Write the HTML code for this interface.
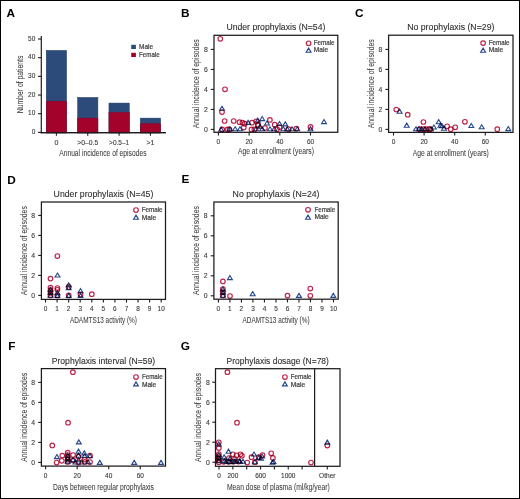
<!DOCTYPE html>
<html><head><meta charset="utf-8"><style>
html,body{margin:0;padding:0;background:#fff;}
body{width:520px;height:499px;overflow:hidden;}
svg{display:block;font-family:"Liberation Sans", sans-serif;will-change:transform;transform:translateZ(0);}
.m{mix-blend-mode:multiply;}
</style></head><body>
<svg width="520" height="499" viewBox="0 0 520 499">
<rect x="0" y="0" width="520" height="499" fill="#fff"/>
<rect x="0.5" y="0.5" width="519" height="498" fill="none" stroke="#000" stroke-width="1"/>
<text x="6.60" y="16.80" font-size="11.8" fill="#000" text-anchor="start" font-weight="bold">A</text>
<line x1="41.30" y1="36.00" x2="41.30" y2="133.30" stroke="#1c1c1c" stroke-width="1.2"/>
<line x1="40.70" y1="132.70" x2="165.80" y2="132.70" stroke="#1c1c1c" stroke-width="1.2"/>
<line x1="38.00" y1="132.40" x2="41.30" y2="132.40" stroke="#1c1c1c" stroke-width="1.1"/>
<text x="35.30" y="134.10" font-size="7.0" fill="#3c3c3c" text-anchor="end" stroke="#3c3c3c" stroke-width="0.12" textLength="3.60" lengthAdjust="spacingAndGlyphs">0</text>
<line x1="38.00" y1="113.72" x2="41.30" y2="113.72" stroke="#1c1c1c" stroke-width="1.1"/>
<text x="35.30" y="115.42" font-size="7.0" fill="#3c3c3c" text-anchor="end" stroke="#3c3c3c" stroke-width="0.12" textLength="7.20" lengthAdjust="spacingAndGlyphs">10</text>
<line x1="38.00" y1="95.04" x2="41.30" y2="95.04" stroke="#1c1c1c" stroke-width="1.1"/>
<text x="35.30" y="96.74" font-size="7.0" fill="#3c3c3c" text-anchor="end" stroke="#3c3c3c" stroke-width="0.12" textLength="7.20" lengthAdjust="spacingAndGlyphs">20</text>
<line x1="38.00" y1="76.36" x2="41.30" y2="76.36" stroke="#1c1c1c" stroke-width="1.1"/>
<text x="35.30" y="78.06" font-size="7.0" fill="#3c3c3c" text-anchor="end" stroke="#3c3c3c" stroke-width="0.12" textLength="7.20" lengthAdjust="spacingAndGlyphs">30</text>
<line x1="38.00" y1="57.68" x2="41.30" y2="57.68" stroke="#1c1c1c" stroke-width="1.1"/>
<text x="35.30" y="59.38" font-size="7.0" fill="#3c3c3c" text-anchor="end" stroke="#3c3c3c" stroke-width="0.12" textLength="7.20" lengthAdjust="spacingAndGlyphs">40</text>
<line x1="38.00" y1="39.00" x2="41.30" y2="39.00" stroke="#1c1c1c" stroke-width="1.1"/>
<text x="35.30" y="40.70" font-size="7.0" fill="#3c3c3c" text-anchor="end" stroke="#3c3c3c" stroke-width="0.12" textLength="7.20" lengthAdjust="spacingAndGlyphs">50</text>
<rect x="46.25" y="50.43" width="20.3" height="82.47" fill="#2c4b7a" stroke="#1e3868" stroke-width="0.5"/>
<rect x="46.25" y="101.19" width="20.3" height="31.71" fill="#a3022b" stroke="#8a0526" stroke-width="0.5"/>
<line x1="56.40" y1="132.70" x2="56.40" y2="135.80" stroke="#1c1c1c" stroke-width="1.1"/>
<rect x="77.60" y="97.43" width="20.3" height="35.47" fill="#2c4b7a" stroke="#1e3868" stroke-width="0.5"/>
<rect x="77.60" y="118.11" width="20.3" height="14.79" fill="#a3022b" stroke="#8a0526" stroke-width="0.5"/>
<line x1="87.75" y1="132.70" x2="87.75" y2="135.80" stroke="#1c1c1c" stroke-width="1.1"/>
<rect x="108.95" y="103.07" width="20.3" height="29.83" fill="#2c4b7a" stroke="#1e3868" stroke-width="0.5"/>
<rect x="108.95" y="112.47" width="20.3" height="20.43" fill="#a3022b" stroke="#8a0526" stroke-width="0.5"/>
<line x1="119.10" y1="132.70" x2="119.10" y2="135.80" stroke="#1c1c1c" stroke-width="1.1"/>
<rect x="140.30" y="118.11" width="20.3" height="14.79" fill="#2c4b7a" stroke="#1e3868" stroke-width="0.5"/>
<rect x="140.30" y="123.75" width="20.3" height="9.15" fill="#a3022b" stroke="#8a0526" stroke-width="0.5"/>
<line x1="150.45" y1="132.70" x2="150.45" y2="135.80" stroke="#1c1c1c" stroke-width="1.1"/>
<line x1="40.70" y1="132.70" x2="165.80" y2="132.70" stroke="#1c1c1c" stroke-width="1.2"/>
<text x="56.40" y="145.00" font-size="7.0" fill="#3c3c3c" text-anchor="middle" stroke="#3c3c3c" stroke-width="0.12">0</text>
<text x="87.75" y="145.00" font-size="7.0" fill="#3c3c3c" text-anchor="middle" stroke="#3c3c3c" stroke-width="0.12" textLength="21.00" lengthAdjust="spacingAndGlyphs">&gt;0–0.5</text>
<text x="119.10" y="145.00" font-size="7.0" fill="#3c3c3c" text-anchor="middle" stroke="#3c3c3c" stroke-width="0.12" textLength="20.00" lengthAdjust="spacingAndGlyphs">&gt;0.5–1</text>
<text x="150.45" y="145.00" font-size="7.0" fill="#3c3c3c" text-anchor="middle" stroke="#3c3c3c" stroke-width="0.12">&gt;1</text>
<text x="102.85" y="156.20" font-size="8.8" fill="#3c3c3c" text-anchor="middle" stroke="#3c3c3c" stroke-width="0.06" textLength="87.30" lengthAdjust="spacingAndGlyphs">Annual incidence of episodes</text>
<text x="22.80" y="84.45" font-size="8.8" fill="#3c3c3c" text-anchor="middle" stroke="#3c3c3c" stroke-width="0.06" textLength="57.70" lengthAdjust="spacingAndGlyphs" transform="rotate(-90 22.80 84.45)">Number of patients</text>
<rect x="131.2" y="44.8" width="4.7" height="4.2" fill="#2c4b7a"/>
<rect x="131.2" y="52.8" width="4.7" height="4.2" fill="#a3022b"/>
<text x="139.10" y="49.30" font-size="6.6" fill="#3c3c3c" text-anchor="start" stroke="#3c3c3c" stroke-width="0.2" textLength="14.00" lengthAdjust="spacingAndGlyphs">Male</text>
<text x="139.10" y="57.30" font-size="6.6" fill="#3c3c3c" text-anchor="start" stroke="#3c3c3c" stroke-width="0.2" textLength="20.50" lengthAdjust="spacingAndGlyphs">Female</text>
<text x="181.00" y="17.00" font-size="11.8" fill="#000" text-anchor="start" font-weight="bold">B</text>
<rect x="214.00" y="35.30" width="123.80" height="97.00" fill="none" stroke="#1c1c1c" stroke-width="1.25"/>
<line x1="210.80" y1="129.40" x2="214.00" y2="129.40" stroke="#1c1c1c" stroke-width="1.1"/>
<text x="207.70" y="131.60" font-size="6.8" fill="#3c3c3c" text-anchor="end" stroke="#3c3c3c" stroke-width="0.12" textLength="3.80" lengthAdjust="spacingAndGlyphs">0</text>
<line x1="210.80" y1="109.40" x2="214.00" y2="109.40" stroke="#1c1c1c" stroke-width="1.1"/>
<text x="207.70" y="111.60" font-size="6.8" fill="#3c3c3c" text-anchor="end" stroke="#3c3c3c" stroke-width="0.12" textLength="3.80" lengthAdjust="spacingAndGlyphs">2</text>
<line x1="210.80" y1="89.40" x2="214.00" y2="89.40" stroke="#1c1c1c" stroke-width="1.1"/>
<text x="207.70" y="91.60" font-size="6.8" fill="#3c3c3c" text-anchor="end" stroke="#3c3c3c" stroke-width="0.12" textLength="3.80" lengthAdjust="spacingAndGlyphs">4</text>
<line x1="210.80" y1="69.40" x2="214.00" y2="69.40" stroke="#1c1c1c" stroke-width="1.1"/>
<text x="207.70" y="71.60" font-size="6.8" fill="#3c3c3c" text-anchor="end" stroke="#3c3c3c" stroke-width="0.12" textLength="3.80" lengthAdjust="spacingAndGlyphs">6</text>
<line x1="210.80" y1="49.40" x2="214.00" y2="49.40" stroke="#1c1c1c" stroke-width="1.1"/>
<text x="207.70" y="51.60" font-size="6.8" fill="#3c3c3c" text-anchor="end" stroke="#3c3c3c" stroke-width="0.12" textLength="3.80" lengthAdjust="spacingAndGlyphs">8</text>
<line x1="218.40" y1="132.30" x2="218.40" y2="135.50" stroke="#1c1c1c" stroke-width="1.1"/>
<text x="218.40" y="143.90" font-size="6.8" fill="#3c3c3c" text-anchor="middle" stroke="#3c3c3c" stroke-width="0.12" textLength="3.60" lengthAdjust="spacingAndGlyphs">0</text>
<line x1="249.10" y1="132.30" x2="249.10" y2="135.50" stroke="#1c1c1c" stroke-width="1.1"/>
<text x="249.10" y="143.90" font-size="6.8" fill="#3c3c3c" text-anchor="middle" stroke="#3c3c3c" stroke-width="0.12" textLength="7.20" lengthAdjust="spacingAndGlyphs">20</text>
<line x1="279.80" y1="132.30" x2="279.80" y2="135.50" stroke="#1c1c1c" stroke-width="1.1"/>
<text x="279.80" y="143.90" font-size="6.8" fill="#3c3c3c" text-anchor="middle" stroke="#3c3c3c" stroke-width="0.12" textLength="7.20" lengthAdjust="spacingAndGlyphs">40</text>
<line x1="310.50" y1="132.30" x2="310.50" y2="135.50" stroke="#1c1c1c" stroke-width="1.1"/>
<text x="310.50" y="143.90" font-size="6.8" fill="#3c3c3c" text-anchor="middle" stroke="#3c3c3c" stroke-width="0.12" textLength="7.20" lengthAdjust="spacingAndGlyphs">60</text>
<text x="275.90" y="30.40" font-size="9.1" fill="#2e2e2e" text-anchor="middle" stroke="#2e2e2e" stroke-width="0.1" textLength="99.00" lengthAdjust="spacingAndGlyphs">Under prophylaxis (N=54)</text>
<text x="275.90" y="154.40" font-size="9.6" fill="#3c3c3c" text-anchor="middle" stroke="#3c3c3c" stroke-width="0.06" textLength="76.00" lengthAdjust="spacingAndGlyphs">Age at enrollment (years)</text>
<text x="199.20" y="83.80" font-size="8.8" fill="#3c3c3c" text-anchor="middle" stroke="#3c3c3c" stroke-width="0.06" textLength="89.00" lengthAdjust="spacingAndGlyphs" transform="rotate(-90 199.20 83.80)">Annual incidence of episodes</text>
<circle class="m" cx="308.60" cy="43.30" r="2.3" fill="none" stroke="#bf2249" stroke-width="1.15"/>
<polygon class="m" points="308.60,48.15 311.05,52.20 306.15,52.20" fill="none" stroke="#27478c" stroke-width="1.1" stroke-linejoin="miter"/>
<text x="313.80" y="44.90" font-size="6.8" fill="#3c3c3c" text-anchor="start" stroke="#3c3c3c" stroke-width="0.2" textLength="20.80" lengthAdjust="spacingAndGlyphs">Female</text>
<text x="313.80" y="51.60" font-size="6.8" fill="#3c3c3c" text-anchor="start" stroke="#3c3c3c" stroke-width="0.2" textLength="14.40" lengthAdjust="spacingAndGlyphs">Male</text>
<circle class="m" cx="220.30" cy="38.80" r="2.3" fill="none" stroke="#bf2249" stroke-width="1.15"/>
<circle class="m" cx="225.00" cy="89.30" r="2.3" fill="none" stroke="#bf2249" stroke-width="1.15"/>
<polygon class="m" points="222.00,106.25 224.45,110.30 219.55,110.30" fill="none" stroke="#27478c" stroke-width="1.1" stroke-linejoin="miter"/>
<circle class="m" cx="222.00" cy="112.10" r="2.3" fill="none" stroke="#bf2249" stroke-width="1.15"/>
<circle class="m" cx="224.60" cy="121.00" r="2.3" fill="none" stroke="#bf2249" stroke-width="1.15"/>
<polygon class="m" points="221.20,127.15 223.65,131.20 218.75,131.20" fill="none" stroke="#27478c" stroke-width="1.1" stroke-linejoin="miter"/>
<circle class="m" cx="222.20" cy="129.40" r="2.3" fill="none" stroke="#bf2249" stroke-width="1.15"/>
<circle class="m" cx="227.50" cy="129.40" r="2.3" fill="none" stroke="#bf2249" stroke-width="1.15"/>
<circle class="m" cx="229.40" cy="129.40" r="2.3" fill="none" stroke="#bf2249" stroke-width="1.15"/>
<polygon class="m" points="229.90,126.75 232.35,130.80 227.45,130.80" fill="none" stroke="#27478c" stroke-width="1.1" stroke-linejoin="miter"/>
<polygon class="m" points="235.20,126.75 237.65,130.80 232.75,130.80" fill="none" stroke="#27478c" stroke-width="1.1" stroke-linejoin="miter"/>
<polygon class="m" points="240.00,126.75 242.45,130.80 237.55,130.80" fill="none" stroke="#27478c" stroke-width="1.1" stroke-linejoin="miter"/>
<circle class="m" cx="243.80" cy="127.50" r="2.3" fill="none" stroke="#bf2249" stroke-width="1.15"/>
<circle class="m" cx="233.70" cy="121.00" r="2.3" fill="none" stroke="#bf2249" stroke-width="1.15"/>
<circle class="m" cx="239.50" cy="122.20" r="2.3" fill="none" stroke="#bf2249" stroke-width="1.15"/>
<circle class="m" cx="242.40" cy="122.70" r="2.3" fill="none" stroke="#bf2249" stroke-width="1.15"/>
<circle class="m" cx="244.80" cy="123.70" r="2.3" fill="none" stroke="#bf2249" stroke-width="1.15"/>
<polygon class="m" points="248.10,120.35 250.55,124.40 245.65,124.40" fill="none" stroke="#27478c" stroke-width="1.1" stroke-linejoin="miter"/>
<circle class="m" cx="252.00" cy="122.70" r="2.3" fill="none" stroke="#bf2249" stroke-width="1.15"/>
<circle class="m" cx="256.30" cy="121.25" r="2.3" fill="none" stroke="#bf2249" stroke-width="1.15"/>
<polygon class="m" points="257.80,118.05 260.25,122.10 255.35,122.10" fill="none" stroke="#27478c" stroke-width="1.1" stroke-linejoin="miter"/>
<polygon class="m" points="262.20,116.55 264.65,120.60 259.75,120.60" fill="none" stroke="#27478c" stroke-width="1.1" stroke-linejoin="miter"/>
<circle class="m" cx="251.50" cy="129.40" r="2.3" fill="none" stroke="#bf2249" stroke-width="1.15"/>
<circle class="m" cx="254.40" cy="129.40" r="2.3" fill="none" stroke="#bf2249" stroke-width="1.15"/>
<polygon class="m" points="256.00,126.75 258.45,130.80 253.55,130.80" fill="none" stroke="#27478c" stroke-width="1.1" stroke-linejoin="miter"/>
<circle class="m" cx="258.20" cy="125.60" r="2.3" fill="none" stroke="#bf2249" stroke-width="1.15"/>
<circle class="m" cx="257.90" cy="124.70" r="2.3" fill="none" stroke="#bf2249" stroke-width="1.15"/>
<circle class="m" cx="269.90" cy="119.90" r="2.3" fill="none" stroke="#bf2249" stroke-width="1.15"/>
<polygon class="m" points="267.00,120.95 269.45,125.00 264.55,125.00" fill="none" stroke="#27478c" stroke-width="1.1" stroke-linejoin="miter"/>
<circle class="m" cx="274.70" cy="124.70" r="2.3" fill="none" stroke="#bf2249" stroke-width="1.15"/>
<polygon class="m" points="279.50,121.45 281.95,125.50 277.05,125.50" fill="none" stroke="#27478c" stroke-width="1.1" stroke-linejoin="miter"/>
<polygon class="m" points="285.30,121.85 287.75,125.90 282.85,125.90" fill="none" stroke="#27478c" stroke-width="1.1" stroke-linejoin="miter"/>
<circle class="m" cx="279.50" cy="127.10" r="2.3" fill="none" stroke="#bf2249" stroke-width="1.15"/>
<circle class="m" cx="288.70" cy="129.20" r="2.3" fill="none" stroke="#bf2249" stroke-width="1.15"/>
<circle class="m" cx="296.30" cy="128.60" r="2.3" fill="none" stroke="#bf2249" stroke-width="1.15"/>
<polygon class="m" points="297.30,126.75 299.75,130.80 294.85,130.80" fill="none" stroke="#27478c" stroke-width="1.1" stroke-linejoin="miter"/>
<polygon class="m" points="262.20,126.75 264.65,130.80 259.75,130.80" fill="none" stroke="#27478c" stroke-width="1.1" stroke-linejoin="miter"/>
<polygon class="m" points="270.00,126.75 272.45,130.80 267.55,130.80" fill="none" stroke="#27478c" stroke-width="1.1" stroke-linejoin="miter"/>
<polygon class="m" points="274.30,126.75 276.75,130.80 271.85,130.80" fill="none" stroke="#27478c" stroke-width="1.1" stroke-linejoin="miter"/>
<polygon class="m" points="283.30,126.75 285.75,130.80 280.85,130.80" fill="none" stroke="#27478c" stroke-width="1.1" stroke-linejoin="miter"/>
<polygon class="m" points="287.20,126.75 289.65,130.80 284.75,130.80" fill="none" stroke="#27478c" stroke-width="1.1" stroke-linejoin="miter"/>
<circle class="m" cx="265.00" cy="128.00" r="2.3" fill="none" stroke="#bf2249" stroke-width="1.15"/>
<polygon class="m" points="260.00,124.25 262.45,128.30 257.55,128.30" fill="none" stroke="#27478c" stroke-width="1.1" stroke-linejoin="miter"/>
<circle class="m" cx="277.00" cy="129.20" r="2.3" fill="none" stroke="#bf2249" stroke-width="1.15"/>
<polygon class="m" points="292.00,126.75 294.45,130.80 289.55,130.80" fill="none" stroke="#27478c" stroke-width="1.1" stroke-linejoin="miter"/>
<circle class="m" cx="310.50" cy="126.90" r="2.3" fill="none" stroke="#bf2249" stroke-width="1.15"/>
<polygon class="m" points="310.50,126.65 312.95,130.70 308.05,130.70" fill="none" stroke="#27478c" stroke-width="1.1" stroke-linejoin="miter"/>
<polygon class="m" points="324.00,119.55 326.45,123.60 321.55,123.60" fill="none" stroke="#27478c" stroke-width="1.1" stroke-linejoin="miter"/>
<text x="355.00" y="17.00" font-size="11.8" fill="#000" text-anchor="start" font-weight="bold">C</text>
<rect x="388.60" y="35.20" width="124.40" height="97.20" fill="none" stroke="#1c1c1c" stroke-width="1.25"/>
<line x1="385.40" y1="129.40" x2="388.60" y2="129.40" stroke="#1c1c1c" stroke-width="1.1"/>
<text x="382.30" y="131.60" font-size="6.8" fill="#3c3c3c" text-anchor="end" stroke="#3c3c3c" stroke-width="0.12" textLength="3.80" lengthAdjust="spacingAndGlyphs">0</text>
<line x1="385.40" y1="109.40" x2="388.60" y2="109.40" stroke="#1c1c1c" stroke-width="1.1"/>
<text x="382.30" y="111.60" font-size="6.8" fill="#3c3c3c" text-anchor="end" stroke="#3c3c3c" stroke-width="0.12" textLength="3.80" lengthAdjust="spacingAndGlyphs">2</text>
<line x1="385.40" y1="89.40" x2="388.60" y2="89.40" stroke="#1c1c1c" stroke-width="1.1"/>
<text x="382.30" y="91.60" font-size="6.8" fill="#3c3c3c" text-anchor="end" stroke="#3c3c3c" stroke-width="0.12" textLength="3.80" lengthAdjust="spacingAndGlyphs">4</text>
<line x1="385.40" y1="69.40" x2="388.60" y2="69.40" stroke="#1c1c1c" stroke-width="1.1"/>
<text x="382.30" y="71.60" font-size="6.8" fill="#3c3c3c" text-anchor="end" stroke="#3c3c3c" stroke-width="0.12" textLength="3.80" lengthAdjust="spacingAndGlyphs">6</text>
<line x1="385.40" y1="49.40" x2="388.60" y2="49.40" stroke="#1c1c1c" stroke-width="1.1"/>
<text x="382.30" y="51.60" font-size="6.8" fill="#3c3c3c" text-anchor="end" stroke="#3c3c3c" stroke-width="0.12" textLength="3.80" lengthAdjust="spacingAndGlyphs">8</text>
<line x1="393.50" y1="132.40" x2="393.50" y2="135.60" stroke="#1c1c1c" stroke-width="1.1"/>
<text x="393.50" y="144.00" font-size="6.8" fill="#3c3c3c" text-anchor="middle" stroke="#3c3c3c" stroke-width="0.12" textLength="3.60" lengthAdjust="spacingAndGlyphs">0</text>
<line x1="424.10" y1="132.40" x2="424.10" y2="135.60" stroke="#1c1c1c" stroke-width="1.1"/>
<text x="424.10" y="144.00" font-size="6.8" fill="#3c3c3c" text-anchor="middle" stroke="#3c3c3c" stroke-width="0.12" textLength="7.20" lengthAdjust="spacingAndGlyphs">20</text>
<line x1="454.70" y1="132.40" x2="454.70" y2="135.60" stroke="#1c1c1c" stroke-width="1.1"/>
<text x="454.70" y="144.00" font-size="6.8" fill="#3c3c3c" text-anchor="middle" stroke="#3c3c3c" stroke-width="0.12" textLength="7.20" lengthAdjust="spacingAndGlyphs">40</text>
<line x1="485.30" y1="132.40" x2="485.30" y2="135.60" stroke="#1c1c1c" stroke-width="1.1"/>
<text x="485.30" y="144.00" font-size="6.8" fill="#3c3c3c" text-anchor="middle" stroke="#3c3c3c" stroke-width="0.12" textLength="7.20" lengthAdjust="spacingAndGlyphs">60</text>
<text x="450.80" y="30.30" font-size="9.1" fill="#2e2e2e" text-anchor="middle" stroke="#2e2e2e" stroke-width="0.1" textLength="87.30" lengthAdjust="spacingAndGlyphs">No prophylaxis (N=29)</text>
<text x="450.80" y="156.00" font-size="9.6" fill="#3c3c3c" text-anchor="middle" stroke="#3c3c3c" stroke-width="0.06" textLength="76.00" lengthAdjust="spacingAndGlyphs">Age at enrollment (years)</text>
<text x="373.80" y="83.80" font-size="8.8" fill="#3c3c3c" text-anchor="middle" stroke="#3c3c3c" stroke-width="0.06" textLength="89.00" lengthAdjust="spacingAndGlyphs" transform="rotate(-90 373.80 83.80)">Annual incidence of episodes</text>
<circle class="m" cx="483.10" cy="43.10" r="2.3" fill="none" stroke="#bf2249" stroke-width="1.15"/>
<polygon class="m" points="483.10,48.15 485.55,52.20 480.65,52.20" fill="none" stroke="#27478c" stroke-width="1.1" stroke-linejoin="miter"/>
<text x="488.80" y="44.90" font-size="6.8" fill="#3c3c3c" text-anchor="start" stroke="#3c3c3c" stroke-width="0.2" textLength="20.80" lengthAdjust="spacingAndGlyphs">Female</text>
<text x="488.80" y="51.60" font-size="6.8" fill="#3c3c3c" text-anchor="start" stroke="#3c3c3c" stroke-width="0.2" textLength="14.40" lengthAdjust="spacingAndGlyphs">Male</text>
<circle class="m" cx="396.30" cy="109.50" r="2.3" fill="none" stroke="#bf2249" stroke-width="1.15"/>
<polygon class="m" points="399.60,109.15 402.05,113.20 397.15,113.20" fill="none" stroke="#27478c" stroke-width="1.1" stroke-linejoin="miter"/>
<circle class="m" cx="407.70" cy="114.70" r="2.3" fill="none" stroke="#bf2249" stroke-width="1.15"/>
<polygon class="m" points="406.70,123.15 409.15,127.20 404.25,127.20" fill="none" stroke="#27478c" stroke-width="1.1" stroke-linejoin="miter"/>
<circle class="m" cx="423.40" cy="122.00" r="2.3" fill="none" stroke="#bf2249" stroke-width="1.15"/>
<polygon class="m" points="416.00,126.75 418.45,130.80 413.55,130.80" fill="none" stroke="#27478c" stroke-width="1.1" stroke-linejoin="miter"/>
<circle class="m" cx="419.60" cy="129.20" r="2.3" fill="none" stroke="#bf2249" stroke-width="1.15"/>
<polygon class="m" points="421.50,126.75 423.95,130.80 419.05,130.80" fill="none" stroke="#27478c" stroke-width="1.1" stroke-linejoin="miter"/>
<circle class="m" cx="423.40" cy="129.20" r="2.3" fill="none" stroke="#bf2249" stroke-width="1.15"/>
<polygon class="m" points="425.00,126.75 427.45,130.80 422.55,130.80" fill="none" stroke="#27478c" stroke-width="1.1" stroke-linejoin="miter"/>
<circle class="m" cx="426.20" cy="129.20" r="2.3" fill="none" stroke="#bf2249" stroke-width="1.15"/>
<polygon class="m" points="419.00,126.75 421.45,130.80 416.55,130.80" fill="none" stroke="#27478c" stroke-width="1.1" stroke-linejoin="miter"/>
<circle class="m" cx="430.30" cy="129.20" r="2.3" fill="none" stroke="#bf2249" stroke-width="1.15"/>
<polygon class="m" points="431.00,126.75 433.45,130.80 428.55,130.80" fill="none" stroke="#27478c" stroke-width="1.1" stroke-linejoin="miter"/>
<polygon class="m" points="433.90,124.95 436.35,129.00 431.45,129.00" fill="none" stroke="#27478c" stroke-width="1.1" stroke-linejoin="miter"/>
<polygon class="m" points="438.70,119.65 441.15,123.70 436.25,123.70" fill="none" stroke="#27478c" stroke-width="1.1" stroke-linejoin="miter"/>
<polygon class="m" points="440.50,123.15 442.95,127.20 438.05,127.20" fill="none" stroke="#27478c" stroke-width="1.1" stroke-linejoin="miter"/>
<polygon class="m" points="444.00,126.15 446.45,130.20 441.55,130.20" fill="none" stroke="#27478c" stroke-width="1.1" stroke-linejoin="miter"/>
<circle class="m" cx="447.10" cy="126.30" r="2.3" fill="none" stroke="#bf2249" stroke-width="1.15"/>
<circle class="m" cx="450.70" cy="129.20" r="2.3" fill="none" stroke="#bf2249" stroke-width="1.15"/>
<circle class="m" cx="455.20" cy="127.30" r="2.3" fill="none" stroke="#bf2249" stroke-width="1.15"/>
<circle class="m" cx="464.90" cy="121.80" r="2.3" fill="none" stroke="#bf2249" stroke-width="1.15"/>
<polygon class="m" points="471.30,123.45 473.75,127.50 468.85,127.50" fill="none" stroke="#27478c" stroke-width="1.1" stroke-linejoin="miter"/>
<polygon class="m" points="481.70,124.75 484.15,128.80 479.25,128.80" fill="none" stroke="#27478c" stroke-width="1.1" stroke-linejoin="miter"/>
<circle class="m" cx="497.30" cy="129.20" r="2.3" fill="none" stroke="#bf2249" stroke-width="1.15"/>
<polygon class="m" points="508.30,126.55 510.75,130.60 505.85,130.60" fill="none" stroke="#27478c" stroke-width="1.1" stroke-linejoin="miter"/>
<circle class="m" cx="429.00" cy="129.20" r="2.3" fill="none" stroke="#bf2249" stroke-width="1.15"/>
<polygon class="m" points="442.00,123.75 444.45,127.80 439.55,127.80" fill="none" stroke="#27478c" stroke-width="1.1" stroke-linejoin="miter"/>
<text x="7.20" y="183.50" font-size="11.8" fill="#000" text-anchor="start" font-weight="bold">D</text>
<rect x="41.40" y="202.00" width="124.10" height="97.40" fill="none" stroke="#1c1c1c" stroke-width="1.25"/>
<line x1="38.20" y1="295.40" x2="41.40" y2="295.40" stroke="#1c1c1c" stroke-width="1.1"/>
<text x="35.10" y="297.60" font-size="6.8" fill="#3c3c3c" text-anchor="end" stroke="#3c3c3c" stroke-width="0.12" textLength="3.80" lengthAdjust="spacingAndGlyphs">0</text>
<line x1="38.20" y1="275.40" x2="41.40" y2="275.40" stroke="#1c1c1c" stroke-width="1.1"/>
<text x="35.10" y="277.60" font-size="6.8" fill="#3c3c3c" text-anchor="end" stroke="#3c3c3c" stroke-width="0.12" textLength="3.80" lengthAdjust="spacingAndGlyphs">2</text>
<line x1="38.20" y1="255.40" x2="41.40" y2="255.40" stroke="#1c1c1c" stroke-width="1.1"/>
<text x="35.10" y="257.60" font-size="6.8" fill="#3c3c3c" text-anchor="end" stroke="#3c3c3c" stroke-width="0.12" textLength="3.80" lengthAdjust="spacingAndGlyphs">4</text>
<line x1="38.20" y1="235.40" x2="41.40" y2="235.40" stroke="#1c1c1c" stroke-width="1.1"/>
<text x="35.10" y="237.60" font-size="6.8" fill="#3c3c3c" text-anchor="end" stroke="#3c3c3c" stroke-width="0.12" textLength="3.80" lengthAdjust="spacingAndGlyphs">6</text>
<line x1="38.20" y1="215.40" x2="41.40" y2="215.40" stroke="#1c1c1c" stroke-width="1.1"/>
<text x="35.10" y="217.60" font-size="6.8" fill="#3c3c3c" text-anchor="end" stroke="#3c3c3c" stroke-width="0.12" textLength="3.80" lengthAdjust="spacingAndGlyphs">8</text>
<line x1="45.50" y1="299.40" x2="45.50" y2="302.60" stroke="#1c1c1c" stroke-width="1.1"/>
<text x="45.50" y="311.00" font-size="6.8" fill="#3c3c3c" text-anchor="middle" stroke="#3c3c3c" stroke-width="0.12" textLength="3.60" lengthAdjust="spacingAndGlyphs">0</text>
<line x1="57.07" y1="299.40" x2="57.07" y2="302.60" stroke="#1c1c1c" stroke-width="1.1"/>
<text x="57.07" y="311.00" font-size="6.8" fill="#3c3c3c" text-anchor="middle" stroke="#3c3c3c" stroke-width="0.12" textLength="3.60" lengthAdjust="spacingAndGlyphs">1</text>
<line x1="68.64" y1="299.40" x2="68.64" y2="302.60" stroke="#1c1c1c" stroke-width="1.1"/>
<text x="68.64" y="311.00" font-size="6.8" fill="#3c3c3c" text-anchor="middle" stroke="#3c3c3c" stroke-width="0.12" textLength="3.60" lengthAdjust="spacingAndGlyphs">2</text>
<line x1="80.21" y1="299.40" x2="80.21" y2="302.60" stroke="#1c1c1c" stroke-width="1.1"/>
<text x="80.21" y="311.00" font-size="6.8" fill="#3c3c3c" text-anchor="middle" stroke="#3c3c3c" stroke-width="0.12" textLength="3.60" lengthAdjust="spacingAndGlyphs">3</text>
<line x1="91.78" y1="299.40" x2="91.78" y2="302.60" stroke="#1c1c1c" stroke-width="1.1"/>
<text x="91.78" y="311.00" font-size="6.8" fill="#3c3c3c" text-anchor="middle" stroke="#3c3c3c" stroke-width="0.12" textLength="3.60" lengthAdjust="spacingAndGlyphs">4</text>
<line x1="103.35" y1="299.40" x2="103.35" y2="302.60" stroke="#1c1c1c" stroke-width="1.1"/>
<text x="103.35" y="311.00" font-size="6.8" fill="#3c3c3c" text-anchor="middle" stroke="#3c3c3c" stroke-width="0.12" textLength="3.60" lengthAdjust="spacingAndGlyphs">5</text>
<line x1="114.92" y1="299.40" x2="114.92" y2="302.60" stroke="#1c1c1c" stroke-width="1.1"/>
<text x="114.92" y="311.00" font-size="6.8" fill="#3c3c3c" text-anchor="middle" stroke="#3c3c3c" stroke-width="0.12" textLength="3.60" lengthAdjust="spacingAndGlyphs">6</text>
<line x1="126.49" y1="299.40" x2="126.49" y2="302.60" stroke="#1c1c1c" stroke-width="1.1"/>
<text x="126.49" y="311.00" font-size="6.8" fill="#3c3c3c" text-anchor="middle" stroke="#3c3c3c" stroke-width="0.12" textLength="3.60" lengthAdjust="spacingAndGlyphs">7</text>
<line x1="138.06" y1="299.40" x2="138.06" y2="302.60" stroke="#1c1c1c" stroke-width="1.1"/>
<text x="138.06" y="311.00" font-size="6.8" fill="#3c3c3c" text-anchor="middle" stroke="#3c3c3c" stroke-width="0.12" textLength="3.60" lengthAdjust="spacingAndGlyphs">8</text>
<line x1="149.63" y1="299.40" x2="149.63" y2="302.60" stroke="#1c1c1c" stroke-width="1.1"/>
<text x="149.63" y="311.00" font-size="6.8" fill="#3c3c3c" text-anchor="middle" stroke="#3c3c3c" stroke-width="0.12" textLength="3.60" lengthAdjust="spacingAndGlyphs">9</text>
<line x1="161.20" y1="299.40" x2="161.20" y2="302.60" stroke="#1c1c1c" stroke-width="1.1"/>
<text x="161.20" y="311.00" font-size="6.8" fill="#3c3c3c" text-anchor="middle" stroke="#3c3c3c" stroke-width="0.12" textLength="7.20" lengthAdjust="spacingAndGlyphs">10</text>
<text x="103.45" y="197.10" font-size="9.1" fill="#2e2e2e" text-anchor="middle" stroke="#2e2e2e" stroke-width="0.1" textLength="99.70" lengthAdjust="spacingAndGlyphs">Under prophylaxis (N=45)</text>
<text x="103.45" y="322.90" font-size="9.6" fill="#3c3c3c" text-anchor="middle" stroke="#3c3c3c" stroke-width="0.06" textLength="67.00" lengthAdjust="spacingAndGlyphs">ADAMTS13 activity (%)</text>
<text x="26.60" y="250.70" font-size="8.8" fill="#3c3c3c" text-anchor="middle" stroke="#3c3c3c" stroke-width="0.06" textLength="89.00" lengthAdjust="spacingAndGlyphs" transform="rotate(-90 26.60 250.70)">Annual incidence of episodes</text>
<circle class="m" cx="136.00" cy="210.00" r="2.3" fill="none" stroke="#bf2249" stroke-width="1.15"/>
<polygon class="m" points="136.00,215.15 138.45,219.20 133.55,219.20" fill="none" stroke="#27478c" stroke-width="1.1" stroke-linejoin="miter"/>
<text x="141.80" y="212.00" font-size="6.8" fill="#3c3c3c" text-anchor="start" stroke="#3c3c3c" stroke-width="0.2" textLength="20.80" lengthAdjust="spacingAndGlyphs">Female</text>
<text x="141.80" y="219.60" font-size="6.8" fill="#3c3c3c" text-anchor="start" stroke="#3c3c3c" stroke-width="0.2" textLength="14.40" lengthAdjust="spacingAndGlyphs">Male</text>
<circle class="m" cx="57.40" cy="256.00" r="2.3" fill="none" stroke="#bf2249" stroke-width="1.15"/>
<polygon class="m" points="57.50,272.95 59.95,277.00 55.05,277.00" fill="none" stroke="#27478c" stroke-width="1.1" stroke-linejoin="miter"/>
<circle class="m" cx="50.50" cy="278.60" r="2.3" fill="none" stroke="#bf2249" stroke-width="1.15"/>
<circle class="m" cx="50.50" cy="287.60" r="2.3" fill="none" stroke="#bf2249" stroke-width="1.15"/>
<circle class="m" cx="50.50" cy="290.20" r="2.3" fill="none" stroke="#bf2249" stroke-width="1.15"/>
<circle class="m" cx="50.50" cy="292.80" r="2.3" fill="none" stroke="#bf2249" stroke-width="1.15"/>
<circle class="m" cx="50.50" cy="295.40" r="2.3" fill="none" stroke="#bf2249" stroke-width="1.15"/>
<polygon class="m" points="50.50,287.25 52.95,291.30 48.05,291.30" fill="none" stroke="#27478c" stroke-width="1.1" stroke-linejoin="miter"/>
<polygon class="m" points="50.50,290.25 52.95,294.30 48.05,294.30" fill="none" stroke="#27478c" stroke-width="1.1" stroke-linejoin="miter"/>
<polygon class="m" points="50.50,293.15 52.95,297.20 48.05,297.20" fill="none" stroke="#27478c" stroke-width="1.1" stroke-linejoin="miter"/>
<circle class="m" cx="57.40" cy="288.00" r="2.3" fill="none" stroke="#bf2249" stroke-width="1.15"/>
<circle class="m" cx="57.40" cy="289.80" r="2.3" fill="none" stroke="#bf2249" stroke-width="1.15"/>
<polygon class="m" points="57.40,290.75 59.85,294.80 54.95,294.80" fill="none" stroke="#27478c" stroke-width="1.1" stroke-linejoin="miter"/>
<polygon class="m" points="57.40,293.35 59.85,297.40 54.95,297.40" fill="none" stroke="#27478c" stroke-width="1.1" stroke-linejoin="miter"/>
<circle class="m" cx="57.40" cy="295.40" r="2.3" fill="none" stroke="#bf2249" stroke-width="1.15"/>
<polygon class="m" points="68.70,282.75 71.15,286.80 66.25,286.80" fill="none" stroke="#27478c" stroke-width="1.1" stroke-linejoin="miter"/>
<circle class="m" cx="68.70" cy="286.90" r="2.3" fill="none" stroke="#bf2249" stroke-width="1.15"/>
<polygon class="m" points="68.70,285.55 71.15,289.60 66.25,289.60" fill="none" stroke="#27478c" stroke-width="1.1" stroke-linejoin="miter"/>
<circle class="m" cx="68.70" cy="295.40" r="2.3" fill="none" stroke="#bf2249" stroke-width="1.15"/>
<polygon class="m" points="68.70,293.35 71.15,297.40 66.25,297.40" fill="none" stroke="#27478c" stroke-width="1.1" stroke-linejoin="miter"/>
<polygon class="m" points="80.50,288.55 82.95,292.60 78.05,292.60" fill="none" stroke="#27478c" stroke-width="1.1" stroke-linejoin="miter"/>
<circle class="m" cx="80.50" cy="294.40" r="2.3" fill="none" stroke="#bf2249" stroke-width="1.15"/>
<polygon class="m" points="80.50,293.35 82.95,297.40 78.05,297.40" fill="none" stroke="#27478c" stroke-width="1.1" stroke-linejoin="miter"/>
<circle class="m" cx="91.80" cy="294.20" r="2.3" fill="none" stroke="#bf2249" stroke-width="1.15"/>
<text x="181.60" y="183.40" font-size="11.8" fill="#000" text-anchor="start" font-weight="bold">E</text>
<rect x="213.90" y="202.00" width="124.30" height="97.20" fill="none" stroke="#1c1c1c" stroke-width="1.25"/>
<line x1="210.70" y1="295.80" x2="213.90" y2="295.80" stroke="#1c1c1c" stroke-width="1.1"/>
<text x="207.60" y="298.00" font-size="6.8" fill="#3c3c3c" text-anchor="end" stroke="#3c3c3c" stroke-width="0.12" textLength="3.80" lengthAdjust="spacingAndGlyphs">0</text>
<line x1="210.70" y1="275.80" x2="213.90" y2="275.80" stroke="#1c1c1c" stroke-width="1.1"/>
<text x="207.60" y="278.00" font-size="6.8" fill="#3c3c3c" text-anchor="end" stroke="#3c3c3c" stroke-width="0.12" textLength="3.80" lengthAdjust="spacingAndGlyphs">2</text>
<line x1="210.70" y1="255.80" x2="213.90" y2="255.80" stroke="#1c1c1c" stroke-width="1.1"/>
<text x="207.60" y="258.00" font-size="6.8" fill="#3c3c3c" text-anchor="end" stroke="#3c3c3c" stroke-width="0.12" textLength="3.80" lengthAdjust="spacingAndGlyphs">4</text>
<line x1="210.70" y1="235.80" x2="213.90" y2="235.80" stroke="#1c1c1c" stroke-width="1.1"/>
<text x="207.60" y="238.00" font-size="6.8" fill="#3c3c3c" text-anchor="end" stroke="#3c3c3c" stroke-width="0.12" textLength="3.80" lengthAdjust="spacingAndGlyphs">6</text>
<line x1="210.70" y1="215.80" x2="213.90" y2="215.80" stroke="#1c1c1c" stroke-width="1.1"/>
<text x="207.60" y="218.00" font-size="6.8" fill="#3c3c3c" text-anchor="end" stroke="#3c3c3c" stroke-width="0.12" textLength="3.80" lengthAdjust="spacingAndGlyphs">8</text>
<line x1="218.40" y1="299.20" x2="218.40" y2="302.40" stroke="#1c1c1c" stroke-width="1.1"/>
<text x="218.40" y="310.80" font-size="6.8" fill="#3c3c3c" text-anchor="middle" stroke="#3c3c3c" stroke-width="0.12" textLength="3.60" lengthAdjust="spacingAndGlyphs">0</text>
<line x1="229.91" y1="299.20" x2="229.91" y2="302.40" stroke="#1c1c1c" stroke-width="1.1"/>
<text x="229.91" y="310.80" font-size="6.8" fill="#3c3c3c" text-anchor="middle" stroke="#3c3c3c" stroke-width="0.12" textLength="3.60" lengthAdjust="spacingAndGlyphs">1</text>
<line x1="241.42" y1="299.20" x2="241.42" y2="302.40" stroke="#1c1c1c" stroke-width="1.1"/>
<text x="241.42" y="310.80" font-size="6.8" fill="#3c3c3c" text-anchor="middle" stroke="#3c3c3c" stroke-width="0.12" textLength="3.60" lengthAdjust="spacingAndGlyphs">2</text>
<line x1="252.93" y1="299.20" x2="252.93" y2="302.40" stroke="#1c1c1c" stroke-width="1.1"/>
<text x="252.93" y="310.80" font-size="6.8" fill="#3c3c3c" text-anchor="middle" stroke="#3c3c3c" stroke-width="0.12" textLength="3.60" lengthAdjust="spacingAndGlyphs">3</text>
<line x1="264.44" y1="299.20" x2="264.44" y2="302.40" stroke="#1c1c1c" stroke-width="1.1"/>
<text x="264.44" y="310.80" font-size="6.8" fill="#3c3c3c" text-anchor="middle" stroke="#3c3c3c" stroke-width="0.12" textLength="3.60" lengthAdjust="spacingAndGlyphs">4</text>
<line x1="275.95" y1="299.20" x2="275.95" y2="302.40" stroke="#1c1c1c" stroke-width="1.1"/>
<text x="275.95" y="310.80" font-size="6.8" fill="#3c3c3c" text-anchor="middle" stroke="#3c3c3c" stroke-width="0.12" textLength="3.60" lengthAdjust="spacingAndGlyphs">5</text>
<line x1="287.46" y1="299.20" x2="287.46" y2="302.40" stroke="#1c1c1c" stroke-width="1.1"/>
<text x="287.46" y="310.80" font-size="6.8" fill="#3c3c3c" text-anchor="middle" stroke="#3c3c3c" stroke-width="0.12" textLength="3.60" lengthAdjust="spacingAndGlyphs">6</text>
<line x1="298.97" y1="299.20" x2="298.97" y2="302.40" stroke="#1c1c1c" stroke-width="1.1"/>
<text x="298.97" y="310.80" font-size="6.8" fill="#3c3c3c" text-anchor="middle" stroke="#3c3c3c" stroke-width="0.12" textLength="3.60" lengthAdjust="spacingAndGlyphs">7</text>
<line x1="310.48" y1="299.20" x2="310.48" y2="302.40" stroke="#1c1c1c" stroke-width="1.1"/>
<text x="310.48" y="310.80" font-size="6.8" fill="#3c3c3c" text-anchor="middle" stroke="#3c3c3c" stroke-width="0.12" textLength="3.60" lengthAdjust="spacingAndGlyphs">8</text>
<line x1="321.99" y1="299.20" x2="321.99" y2="302.40" stroke="#1c1c1c" stroke-width="1.1"/>
<text x="321.99" y="310.80" font-size="6.8" fill="#3c3c3c" text-anchor="middle" stroke="#3c3c3c" stroke-width="0.12" textLength="3.60" lengthAdjust="spacingAndGlyphs">9</text>
<line x1="333.50" y1="299.20" x2="333.50" y2="302.40" stroke="#1c1c1c" stroke-width="1.1"/>
<text x="333.50" y="310.80" font-size="6.8" fill="#3c3c3c" text-anchor="middle" stroke="#3c3c3c" stroke-width="0.12" textLength="7.20" lengthAdjust="spacingAndGlyphs">10</text>
<text x="276.05" y="197.10" font-size="9.1" fill="#2e2e2e" text-anchor="middle" stroke="#2e2e2e" stroke-width="0.1" textLength="86.90" lengthAdjust="spacingAndGlyphs">No prophylaxis (N=24)</text>
<text x="276.05" y="323.00" font-size="9.6" fill="#3c3c3c" text-anchor="middle" stroke="#3c3c3c" stroke-width="0.06" textLength="67.00" lengthAdjust="spacingAndGlyphs">ADAMTS13 activity (%)</text>
<text x="199.10" y="250.60" font-size="8.8" fill="#3c3c3c" text-anchor="middle" stroke="#3c3c3c" stroke-width="0.06" textLength="89.00" lengthAdjust="spacingAndGlyphs" transform="rotate(-90 199.10 250.60)">Annual incidence of episodes</text>
<circle class="m" cx="308.00" cy="209.80" r="2.3" fill="none" stroke="#bf2249" stroke-width="1.15"/>
<polygon class="m" points="308.00,215.15 310.45,219.20 305.55,219.20" fill="none" stroke="#27478c" stroke-width="1.1" stroke-linejoin="miter"/>
<text x="314.40" y="211.90" font-size="6.8" fill="#3c3c3c" text-anchor="start" stroke="#3c3c3c" stroke-width="0.2" textLength="20.80" lengthAdjust="spacingAndGlyphs">Female</text>
<text x="314.40" y="219.30" font-size="6.8" fill="#3c3c3c" text-anchor="start" stroke="#3c3c3c" stroke-width="0.2" textLength="14.40" lengthAdjust="spacingAndGlyphs">Male</text>
<polygon class="m" points="229.90,275.55 232.35,279.60 227.45,279.60" fill="none" stroke="#27478c" stroke-width="1.1" stroke-linejoin="miter"/>
<circle class="m" cx="222.90" cy="281.40" r="2.3" fill="none" stroke="#bf2249" stroke-width="1.15"/>
<circle class="m" cx="222.90" cy="289.00" r="2.3" fill="none" stroke="#bf2249" stroke-width="1.15"/>
<circle class="m" cx="222.90" cy="292.00" r="2.3" fill="none" stroke="#bf2249" stroke-width="1.15"/>
<circle class="m" cx="222.90" cy="295.40" r="2.3" fill="none" stroke="#bf2249" stroke-width="1.15"/>
<polygon class="m" points="222.90,286.95 225.35,291.00 220.45,291.00" fill="none" stroke="#27478c" stroke-width="1.1" stroke-linejoin="miter"/>
<polygon class="m" points="222.90,290.25 225.35,294.30 220.45,294.30" fill="none" stroke="#27478c" stroke-width="1.1" stroke-linejoin="miter"/>
<polygon class="m" points="222.90,293.15 225.35,297.20 220.45,297.20" fill="none" stroke="#27478c" stroke-width="1.1" stroke-linejoin="miter"/>
<circle class="m" cx="230.00" cy="296.00" r="2.3" fill="none" stroke="#bf2249" stroke-width="1.15"/>
<polygon class="m" points="252.70,291.65 255.15,295.70 250.25,295.70" fill="none" stroke="#27478c" stroke-width="1.1" stroke-linejoin="miter"/>
<circle class="m" cx="287.50" cy="295.60" r="2.3" fill="none" stroke="#bf2249" stroke-width="1.15"/>
<polygon class="m" points="299.00,293.35 301.45,297.40 296.55,297.40" fill="none" stroke="#27478c" stroke-width="1.1" stroke-linejoin="miter"/>
<circle class="m" cx="310.30" cy="288.50" r="2.3" fill="none" stroke="#bf2249" stroke-width="1.15"/>
<circle class="m" cx="310.30" cy="295.80" r="2.3" fill="none" stroke="#bf2249" stroke-width="1.15"/>
<polygon class="m" points="333.30,293.35 335.75,297.40 330.85,297.40" fill="none" stroke="#27478c" stroke-width="1.1" stroke-linejoin="miter"/>
<text x="8.30" y="350.00" font-size="11.8" fill="#000" text-anchor="start" font-weight="bold">F</text>
<rect x="41.40" y="368.60" width="124.10" height="97.50" fill="none" stroke="#1c1c1c" stroke-width="1.25"/>
<line x1="38.20" y1="462.40" x2="41.40" y2="462.40" stroke="#1c1c1c" stroke-width="1.1"/>
<text x="35.10" y="464.60" font-size="6.8" fill="#3c3c3c" text-anchor="end" stroke="#3c3c3c" stroke-width="0.12" textLength="3.80" lengthAdjust="spacingAndGlyphs">0</text>
<line x1="38.20" y1="442.40" x2="41.40" y2="442.40" stroke="#1c1c1c" stroke-width="1.1"/>
<text x="35.10" y="444.60" font-size="6.8" fill="#3c3c3c" text-anchor="end" stroke="#3c3c3c" stroke-width="0.12" textLength="3.80" lengthAdjust="spacingAndGlyphs">2</text>
<line x1="38.20" y1="422.40" x2="41.40" y2="422.40" stroke="#1c1c1c" stroke-width="1.1"/>
<text x="35.10" y="424.60" font-size="6.8" fill="#3c3c3c" text-anchor="end" stroke="#3c3c3c" stroke-width="0.12" textLength="3.80" lengthAdjust="spacingAndGlyphs">4</text>
<line x1="38.20" y1="402.40" x2="41.40" y2="402.40" stroke="#1c1c1c" stroke-width="1.1"/>
<text x="35.10" y="404.60" font-size="6.8" fill="#3c3c3c" text-anchor="end" stroke="#3c3c3c" stroke-width="0.12" textLength="3.80" lengthAdjust="spacingAndGlyphs">6</text>
<line x1="38.20" y1="382.40" x2="41.40" y2="382.40" stroke="#1c1c1c" stroke-width="1.1"/>
<text x="35.10" y="384.60" font-size="6.8" fill="#3c3c3c" text-anchor="end" stroke="#3c3c3c" stroke-width="0.12" textLength="3.80" lengthAdjust="spacingAndGlyphs">8</text>
<line x1="45.60" y1="466.10" x2="45.60" y2="469.30" stroke="#1c1c1c" stroke-width="1.1"/>
<text x="45.60" y="477.70" font-size="6.8" fill="#3c3c3c" text-anchor="middle" stroke="#3c3c3c" stroke-width="0.12" textLength="3.60" lengthAdjust="spacingAndGlyphs">0</text>
<line x1="77.16" y1="466.10" x2="77.16" y2="469.30" stroke="#1c1c1c" stroke-width="1.1"/>
<text x="77.16" y="477.70" font-size="6.8" fill="#3c3c3c" text-anchor="middle" stroke="#3c3c3c" stroke-width="0.12" textLength="7.20" lengthAdjust="spacingAndGlyphs">20</text>
<line x1="108.72" y1="466.10" x2="108.72" y2="469.30" stroke="#1c1c1c" stroke-width="1.1"/>
<text x="108.72" y="477.70" font-size="6.8" fill="#3c3c3c" text-anchor="middle" stroke="#3c3c3c" stroke-width="0.12" textLength="7.20" lengthAdjust="spacingAndGlyphs">40</text>
<line x1="140.28" y1="466.10" x2="140.28" y2="469.30" stroke="#1c1c1c" stroke-width="1.1"/>
<text x="140.28" y="477.70" font-size="6.8" fill="#3c3c3c" text-anchor="middle" stroke="#3c3c3c" stroke-width="0.12" textLength="7.20" lengthAdjust="spacingAndGlyphs">60</text>
<text x="103.45" y="363.70" font-size="9.1" fill="#2e2e2e" text-anchor="middle" stroke="#2e2e2e" stroke-width="0.1" textLength="103.40" lengthAdjust="spacingAndGlyphs">Prophylaxis interval (N=59)</text>
<text x="103.45" y="490.00" font-size="9.6" fill="#3c3c3c" text-anchor="middle" stroke="#3c3c3c" stroke-width="0.06" textLength="101.00" lengthAdjust="spacingAndGlyphs">Days between regular prophylaxis</text>
<text x="26.60" y="417.35" font-size="8.8" fill="#3c3c3c" text-anchor="middle" stroke="#3c3c3c" stroke-width="0.06" textLength="89.00" lengthAdjust="spacingAndGlyphs" transform="rotate(-90 26.60 417.35)">Annual incidence of episodes</text>
<circle class="m" cx="136.00" cy="377.00" r="2.3" fill="none" stroke="#bf2249" stroke-width="1.15"/>
<polygon class="m" points="136.00,381.85 138.45,385.90 133.55,385.90" fill="none" stroke="#27478c" stroke-width="1.1" stroke-linejoin="miter"/>
<text x="141.90" y="379.00" font-size="6.8" fill="#3c3c3c" text-anchor="start" stroke="#3c3c3c" stroke-width="0.2" textLength="20.80" lengthAdjust="spacingAndGlyphs">Female</text>
<text x="141.90" y="386.60" font-size="6.8" fill="#3c3c3c" text-anchor="start" stroke="#3c3c3c" stroke-width="0.2" textLength="14.40" lengthAdjust="spacingAndGlyphs">Male</text>
<circle class="m" cx="72.90" cy="372.20" r="2.3" fill="none" stroke="#bf2249" stroke-width="1.15"/>
<circle class="m" cx="68.05" cy="422.70" r="2.3" fill="none" stroke="#bf2249" stroke-width="1.15"/>
<circle class="m" cx="52.30" cy="445.40" r="2.3" fill="none" stroke="#bf2249" stroke-width="1.15"/>
<polygon class="m" points="78.80,439.85 81.25,443.90 76.35,443.90" fill="none" stroke="#27478c" stroke-width="1.1" stroke-linejoin="miter"/>
<polygon class="m" points="56.90,454.55 59.35,458.60 54.45,458.60" fill="none" stroke="#27478c" stroke-width="1.1" stroke-linejoin="miter"/>
<circle class="m" cx="56.60" cy="462.50" r="2.3" fill="none" stroke="#bf2249" stroke-width="1.15"/>
<circle class="m" cx="61.80" cy="460.80" r="2.3" fill="none" stroke="#bf2249" stroke-width="1.15"/>
<circle class="m" cx="62.30" cy="455.60" r="2.3" fill="none" stroke="#bf2249" stroke-width="1.15"/>
<circle class="m" cx="67.70" cy="452.70" r="2.3" fill="none" stroke="#bf2249" stroke-width="1.15"/>
<circle class="m" cx="67.70" cy="455.00" r="2.3" fill="none" stroke="#bf2249" stroke-width="1.15"/>
<circle class="m" cx="67.70" cy="457.30" r="2.3" fill="none" stroke="#bf2249" stroke-width="1.15"/>
<circle class="m" cx="67.70" cy="459.60" r="2.3" fill="none" stroke="#bf2249" stroke-width="1.15"/>
<circle class="m" cx="67.70" cy="461.90" r="2.3" fill="none" stroke="#bf2249" stroke-width="1.15"/>
<polygon class="m" points="67.70,453.25 70.15,457.30 65.25,457.30" fill="none" stroke="#27478c" stroke-width="1.1" stroke-linejoin="miter"/>
<polygon class="m" points="67.70,456.25 70.15,460.30 65.25,460.30" fill="none" stroke="#27478c" stroke-width="1.1" stroke-linejoin="miter"/>
<polygon class="m" points="67.70,459.25 70.15,463.30 65.25,463.30" fill="none" stroke="#27478c" stroke-width="1.1" stroke-linejoin="miter"/>
<circle class="m" cx="73.10" cy="455.00" r="2.3" fill="none" stroke="#bf2249" stroke-width="1.15"/>
<circle class="m" cx="73.10" cy="460.40" r="2.3" fill="none" stroke="#bf2249" stroke-width="1.15"/>
<polygon class="m" points="73.10,457.55 75.55,461.60 70.65,461.60" fill="none" stroke="#27478c" stroke-width="1.1" stroke-linejoin="miter"/>
<polygon class="m" points="78.50,449.15 80.95,453.20 76.05,453.20" fill="none" stroke="#27478c" stroke-width="1.1" stroke-linejoin="miter"/>
<polygon class="m" points="78.50,453.15 80.95,457.20 76.05,457.20" fill="none" stroke="#27478c" stroke-width="1.1" stroke-linejoin="miter"/>
<polygon class="m" points="78.50,457.75 80.95,461.80 76.05,461.80" fill="none" stroke="#27478c" stroke-width="1.1" stroke-linejoin="miter"/>
<circle class="m" cx="78.50" cy="456.50" r="2.3" fill="none" stroke="#bf2249" stroke-width="1.15"/>
<circle class="m" cx="78.50" cy="462.50" r="2.3" fill="none" stroke="#bf2249" stroke-width="1.15"/>
<polygon class="m" points="84.30,450.85 86.75,454.90 81.85,454.90" fill="none" stroke="#27478c" stroke-width="1.1" stroke-linejoin="miter"/>
<polygon class="m" points="84.60,453.75 87.05,457.80 82.15,457.80" fill="none" stroke="#27478c" stroke-width="1.1" stroke-linejoin="miter"/>
<circle class="m" cx="84.60" cy="459.50" r="2.3" fill="none" stroke="#bf2249" stroke-width="1.15"/>
<circle class="m" cx="84.80" cy="461.90" r="2.3" fill="none" stroke="#bf2249" stroke-width="1.15"/>
<polygon class="m" points="90.00,453.75 92.45,457.80 87.55,457.80" fill="none" stroke="#27478c" stroke-width="1.1" stroke-linejoin="miter"/>
<circle class="m" cx="90.00" cy="455.60" r="2.3" fill="none" stroke="#bf2249" stroke-width="1.15"/>
<circle class="m" cx="90.00" cy="462.00" r="2.3" fill="none" stroke="#bf2249" stroke-width="1.15"/>
<polygon class="m" points="75.50,459.95 77.95,464.00 73.05,464.00" fill="none" stroke="#27478c" stroke-width="1.1" stroke-linejoin="miter"/>
<polygon class="m" points="81.50,459.95 83.95,464.00 79.05,464.00" fill="none" stroke="#27478c" stroke-width="1.1" stroke-linejoin="miter"/>
<polygon class="m" points="88.00,459.75 90.45,463.80 85.55,463.80" fill="none" stroke="#27478c" stroke-width="1.1" stroke-linejoin="miter"/>
<polygon class="m" points="99.80,460.35 102.25,464.40 97.35,464.40" fill="none" stroke="#27478c" stroke-width="1.1" stroke-linejoin="miter"/>
<polygon class="m" points="134.20,460.35 136.65,464.40 131.75,464.40" fill="none" stroke="#27478c" stroke-width="1.1" stroke-linejoin="miter"/>
<polygon class="m" points="161.00,460.35 163.45,464.40 158.55,464.40" fill="none" stroke="#27478c" stroke-width="1.1" stroke-linejoin="miter"/>
<text x="180.80" y="350.20" font-size="11.8" fill="#000" text-anchor="start" font-weight="bold">G</text>
<rect x="215.50" y="368.70" width="124.50" height="97.60" fill="none" stroke="#1c1c1c" stroke-width="1.25"/>
<line x1="314.60" y1="368.70" x2="314.60" y2="466.30" stroke="#1c1c1c" stroke-width="1.25"/>
<line x1="212.30" y1="462.20" x2="215.50" y2="462.20" stroke="#1c1c1c" stroke-width="1.1"/>
<text x="209.70" y="464.80" font-size="6.8" fill="#3c3c3c" text-anchor="end" stroke="#3c3c3c" stroke-width="0.12" textLength="3.80" lengthAdjust="spacingAndGlyphs">0</text>
<line x1="212.30" y1="442.20" x2="215.50" y2="442.20" stroke="#1c1c1c" stroke-width="1.1"/>
<text x="209.70" y="444.80" font-size="6.8" fill="#3c3c3c" text-anchor="end" stroke="#3c3c3c" stroke-width="0.12" textLength="3.80" lengthAdjust="spacingAndGlyphs">2</text>
<line x1="212.30" y1="422.20" x2="215.50" y2="422.20" stroke="#1c1c1c" stroke-width="1.1"/>
<text x="209.70" y="424.80" font-size="6.8" fill="#3c3c3c" text-anchor="end" stroke="#3c3c3c" stroke-width="0.12" textLength="3.80" lengthAdjust="spacingAndGlyphs">4</text>
<line x1="212.30" y1="402.20" x2="215.50" y2="402.20" stroke="#1c1c1c" stroke-width="1.1"/>
<text x="209.70" y="404.80" font-size="6.8" fill="#3c3c3c" text-anchor="end" stroke="#3c3c3c" stroke-width="0.12" textLength="3.80" lengthAdjust="spacingAndGlyphs">6</text>
<line x1="212.30" y1="382.20" x2="215.50" y2="382.20" stroke="#1c1c1c" stroke-width="1.1"/>
<text x="209.70" y="384.80" font-size="6.8" fill="#3c3c3c" text-anchor="end" stroke="#3c3c3c" stroke-width="0.12" textLength="3.80" lengthAdjust="spacingAndGlyphs">8</text>
<line x1="219.00" y1="466.30" x2="219.00" y2="469.50" stroke="#1c1c1c" stroke-width="1.1"/>
<line x1="232.85" y1="466.30" x2="232.85" y2="469.50" stroke="#1c1c1c" stroke-width="1.1"/>
<line x1="246.70" y1="466.30" x2="246.70" y2="469.50" stroke="#1c1c1c" stroke-width="1.1"/>
<line x1="260.55" y1="466.30" x2="260.55" y2="469.50" stroke="#1c1c1c" stroke-width="1.1"/>
<line x1="274.40" y1="466.30" x2="274.40" y2="469.50" stroke="#1c1c1c" stroke-width="1.1"/>
<line x1="288.25" y1="466.30" x2="288.25" y2="469.50" stroke="#1c1c1c" stroke-width="1.1"/>
<line x1="302.10" y1="466.30" x2="302.10" y2="469.50" stroke="#1c1c1c" stroke-width="1.1"/>
<text x="219.00" y="477.90" font-size="6.8" fill="#3c3c3c" text-anchor="middle" stroke="#3c3c3c" stroke-width="0.12" textLength="3.60" lengthAdjust="spacingAndGlyphs">0</text>
<text x="232.85" y="477.90" font-size="6.8" fill="#3c3c3c" text-anchor="middle" stroke="#3c3c3c" stroke-width="0.12" textLength="10.80" lengthAdjust="spacingAndGlyphs">200</text>
<text x="260.55" y="477.90" font-size="6.8" fill="#3c3c3c" text-anchor="middle" stroke="#3c3c3c" stroke-width="0.12" textLength="10.80" lengthAdjust="spacingAndGlyphs">600</text>
<text x="288.25" y="477.90" font-size="6.8" fill="#3c3c3c" text-anchor="middle" stroke="#3c3c3c" stroke-width="0.12" textLength="14.40" lengthAdjust="spacingAndGlyphs">1000</text>
<line x1="327.30" y1="466.30" x2="327.30" y2="469.50" stroke="#1c1c1c" stroke-width="1.1"/>
<text x="327.30" y="477.90" font-size="6.8" fill="#3c3c3c" text-anchor="middle" stroke="#3c3c3c" stroke-width="0.12" textLength="16.50" lengthAdjust="spacingAndGlyphs">Other</text>
<text x="277.75" y="363.80" font-size="9.1" fill="#2e2e2e" text-anchor="middle" stroke="#2e2e2e" stroke-width="0.1" textLength="102.30" lengthAdjust="spacingAndGlyphs">Prophylaxis dosage (N=78)</text>
<text x="278.40" y="490.00" font-size="9.6" fill="#3c3c3c" text-anchor="middle" stroke="#3c3c3c" stroke-width="0.06" textLength="103.00" lengthAdjust="spacingAndGlyphs">Mean dose of plasma (ml/kg/year)</text>
<text x="200.70" y="417.50" font-size="8.8" fill="#3c3c3c" text-anchor="middle" stroke="#3c3c3c" stroke-width="0.06" textLength="89.00" lengthAdjust="spacingAndGlyphs" transform="rotate(-90 200.70 417.50)">Annual incidence of episodes</text>
<circle class="m" cx="284.90" cy="377.00" r="2.3" fill="none" stroke="#bf2249" stroke-width="1.15"/>
<polygon class="m" points="284.90,381.85 287.35,385.90 282.45,385.90" fill="none" stroke="#27478c" stroke-width="1.1" stroke-linejoin="miter"/>
<text x="290.80" y="379.00" font-size="6.8" fill="#3c3c3c" text-anchor="start" stroke="#3c3c3c" stroke-width="0.2" textLength="20.80" lengthAdjust="spacingAndGlyphs">Female</text>
<text x="290.80" y="386.60" font-size="6.8" fill="#3c3c3c" text-anchor="start" stroke="#3c3c3c" stroke-width="0.2" textLength="14.40" lengthAdjust="spacingAndGlyphs">Male</text>
<circle class="m" cx="227.40" cy="372.20" r="2.3" fill="none" stroke="#bf2249" stroke-width="1.15"/>
<circle class="m" cx="237.00" cy="422.70" r="2.3" fill="none" stroke="#bf2249" stroke-width="1.15"/>
<circle class="m" cx="218.80" cy="442.30" r="2.3" fill="none" stroke="#bf2249" stroke-width="1.15"/>
<polygon class="m" points="218.80,441.85 221.25,445.90 216.35,445.90" fill="none" stroke="#27478c" stroke-width="1.1" stroke-linejoin="miter"/>
<circle class="m" cx="218.80" cy="448.10" r="2.3" fill="none" stroke="#bf2249" stroke-width="1.15"/>
<circle class="m" cx="218.80" cy="454.00" r="2.3" fill="none" stroke="#bf2249" stroke-width="1.15"/>
<circle class="m" cx="218.80" cy="456.00" r="2.3" fill="none" stroke="#bf2249" stroke-width="1.15"/>
<circle class="m" cx="218.80" cy="458.00" r="2.3" fill="none" stroke="#bf2249" stroke-width="1.15"/>
<circle class="m" cx="218.80" cy="460.00" r="2.3" fill="none" stroke="#bf2249" stroke-width="1.15"/>
<circle class="m" cx="218.80" cy="462.20" r="2.3" fill="none" stroke="#bf2249" stroke-width="1.15"/>
<polygon class="m" points="218.80,452.75 221.25,456.80 216.35,456.80" fill="none" stroke="#27478c" stroke-width="1.1" stroke-linejoin="miter"/>
<polygon class="m" points="218.80,455.75 221.25,459.80 216.35,459.80" fill="none" stroke="#27478c" stroke-width="1.1" stroke-linejoin="miter"/>
<polygon class="m" points="218.80,458.75 221.25,462.80 216.35,462.80" fill="none" stroke="#27478c" stroke-width="1.1" stroke-linejoin="miter"/>
<polygon class="m" points="228.50,449.15 230.95,453.20 226.05,453.20" fill="none" stroke="#27478c" stroke-width="1.1" stroke-linejoin="miter"/>
<polygon class="m" points="224.10,454.85 226.55,458.90 221.65,458.90" fill="none" stroke="#27478c" stroke-width="1.1" stroke-linejoin="miter"/>
<circle class="m" cx="232.80" cy="454.30" r="2.3" fill="none" stroke="#bf2249" stroke-width="1.15"/>
<circle class="m" cx="236.60" cy="455.30" r="2.3" fill="none" stroke="#bf2249" stroke-width="1.15"/>
<circle class="m" cx="240.50" cy="454.30" r="2.3" fill="none" stroke="#bf2249" stroke-width="1.15"/>
<circle class="m" cx="241.90" cy="455.80" r="2.3" fill="none" stroke="#bf2249" stroke-width="1.15"/>
<circle class="m" cx="223.70" cy="461.80" r="2.3" fill="none" stroke="#bf2249" stroke-width="1.15"/>
<polygon class="m" points="224.50,458.75 226.95,462.80 222.05,462.80" fill="none" stroke="#27478c" stroke-width="1.1" stroke-linejoin="miter"/>
<circle class="m" cx="228.50" cy="461.80" r="2.3" fill="none" stroke="#bf2249" stroke-width="1.15"/>
<polygon class="m" points="229.50,459.25 231.95,463.30 227.05,463.30" fill="none" stroke="#27478c" stroke-width="1.1" stroke-linejoin="miter"/>
<circle class="m" cx="233.50" cy="461.50" r="2.3" fill="none" stroke="#bf2249" stroke-width="1.15"/>
<polygon class="m" points="234.50,459.25 236.95,463.30 232.05,463.30" fill="none" stroke="#27478c" stroke-width="1.1" stroke-linejoin="miter"/>
<circle class="m" cx="238.50" cy="461.50" r="2.3" fill="none" stroke="#bf2249" stroke-width="1.15"/>
<polygon class="m" points="239.50,458.75 241.95,462.80 237.05,462.80" fill="none" stroke="#27478c" stroke-width="1.1" stroke-linejoin="miter"/>
<polygon class="m" points="243.00,459.25 245.45,463.30 240.55,463.30" fill="none" stroke="#27478c" stroke-width="1.1" stroke-linejoin="miter"/>
<polygon class="m" points="226.00,459.25 228.45,463.30 223.55,463.30" fill="none" stroke="#27478c" stroke-width="1.1" stroke-linejoin="miter"/>
<polygon class="m" points="231.00,459.55 233.45,463.60 228.55,463.60" fill="none" stroke="#27478c" stroke-width="1.1" stroke-linejoin="miter"/>
<polygon class="m" points="236.00,458.75 238.45,462.80 233.55,462.80" fill="none" stroke="#27478c" stroke-width="1.1" stroke-linejoin="miter"/>
<polygon class="m" points="240.00,459.25 242.45,463.30 237.55,463.30" fill="none" stroke="#27478c" stroke-width="1.1" stroke-linejoin="miter"/>
<polygon class="m" points="230.00,456.25 232.45,460.30 227.55,460.30" fill="none" stroke="#27478c" stroke-width="1.1" stroke-linejoin="miter"/>
<circle class="m" cx="229.00" cy="458.00" r="2.3" fill="none" stroke="#bf2249" stroke-width="1.15"/>
<circle class="m" cx="235.00" cy="459.00" r="2.3" fill="none" stroke="#bf2249" stroke-width="1.15"/>
<circle class="m" cx="247.20" cy="462.50" r="2.3" fill="none" stroke="#bf2249" stroke-width="1.15"/>
<polygon class="m" points="254.00,451.95 256.45,456.00 251.55,456.00" fill="none" stroke="#27478c" stroke-width="1.1" stroke-linejoin="miter"/>
<circle class="m" cx="251.50" cy="457.20" r="2.3" fill="none" stroke="#bf2249" stroke-width="1.15"/>
<polygon class="m" points="254.90,459.65 257.35,463.70 252.45,463.70" fill="none" stroke="#27478c" stroke-width="1.1" stroke-linejoin="miter"/>
<circle class="m" cx="254.90" cy="462.20" r="2.3" fill="none" stroke="#bf2249" stroke-width="1.15"/>
<circle class="m" cx="258.75" cy="457.20" r="2.3" fill="none" stroke="#bf2249" stroke-width="1.15"/>
<polygon class="m" points="258.75,455.35 261.20,459.40 256.30,459.40" fill="none" stroke="#27478c" stroke-width="1.1" stroke-linejoin="miter"/>
<polygon class="m" points="262.10,453.95 264.55,458.00 259.65,458.00" fill="none" stroke="#27478c" stroke-width="1.1" stroke-linejoin="miter"/>
<circle class="m" cx="262.50" cy="455.00" r="2.3" fill="none" stroke="#bf2249" stroke-width="1.15"/>
<polygon class="m" points="261.00,456.25 263.45,460.30 258.55,460.30" fill="none" stroke="#27478c" stroke-width="1.1" stroke-linejoin="miter"/>
<circle class="m" cx="271.20" cy="453.30" r="2.3" fill="none" stroke="#bf2249" stroke-width="1.15"/>
<circle class="m" cx="272.90" cy="457.90" r="2.3" fill="none" stroke="#bf2249" stroke-width="1.15"/>
<polygon class="m" points="273.50,459.45 275.95,463.50 271.05,463.50" fill="none" stroke="#27478c" stroke-width="1.1" stroke-linejoin="miter"/>
<polygon class="m" points="272.50,460.25 274.95,464.30 270.05,464.30" fill="none" stroke="#27478c" stroke-width="1.1" stroke-linejoin="miter"/>
<circle class="m" cx="311.00" cy="462.50" r="2.3" fill="none" stroke="#bf2249" stroke-width="1.15"/>
<circle class="m" cx="327.30" cy="445.50" r="2.3" fill="none" stroke="#bf2249" stroke-width="1.15"/>
<polygon class="m" points="327.30,440.15 329.75,444.20 324.85,444.20" fill="none" stroke="#27478c" stroke-width="1.1" stroke-linejoin="miter"/>
</svg>
</body></html>
